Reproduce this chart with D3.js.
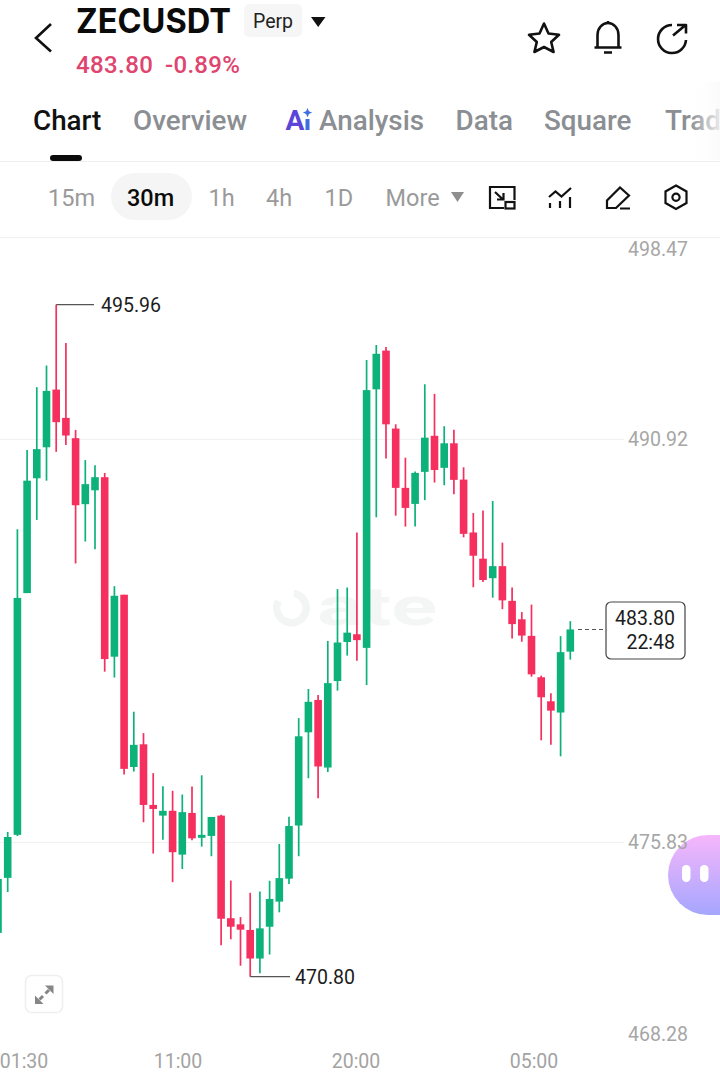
<!DOCTYPE html>
<html><head><meta charset="utf-8">
<style>html,body{margin:0;padding:0;background:#fff;overflow:hidden}svg{display:block;font-family:Roboto,sans-serif}</style>
<script src="https://cdn.jsdelivr.net/npm/d3@7/dist/d3.min.js"></script>
</head><body><svg id="c" width="720" height="1077"></svg>
<script>
const opens=[472.44,474.50,476.11,485.16,489.46,490.62,492.78,491.72,490.96,488.49,
489.01,489.50,482.78,485.10,478.65,479.50,477.23,476.83,477.01,475.37,
476.93,476.00,476.07,476.83,472.99,472.76,472.55,471.48,472.67,473.61,
474.47,476.46,479.95,481.16,478.63,481.87,483.33,483.62,483.11,492.79,
494.24,491.32,489.10,488.50,489.70,491.05,489.85,490.77,489.41,487.43,
486.45,485.72,486.17,484.87,484.18,483.56,482.01,481.11,480.69,482.97];
const highs=[474.46,476.22,487.55,490.52,492.87,493.68,495.96,494.52,491.27,490.14,
489.95,489.66,485.42,485.10,480.72,479.92,478.42,477.93,477.76,477.62,
477.92,478.34,476.78,476.86,474.40,473.03,473.94,473.99,474.39,475.77,
476.79,480.48,481.57,481.35,483.37,485.31,485.37,487.43,493.89,494.45,
494.37,491.48,490.23,489.71,492.98,492.62,491.41,491.28,489.87,488.16,
488.25,488.61,487.05,485.37,484.45,484.73,482.07,481.41,483.55,484.11];
const lows=[472.44,473.97,476.07,485.16,487.90,489.37,490.45,490.71,486.27,487.09,
486.80,482.22,482.00,478.37,478.48,476.58,475.41,475.93,474.34,474.83,
475.91,475.67,475.31,471.98,472.20,471.21,470.80,470.93,471.63,473.21,
474.27,475.31,478.23,477.48,478.46,481.51,482.82,482.63,481.72,488.00,
490.20,488.06,487.65,487.65,488.64,489.30,489.20,488.86,487.25,485.38,
485.58,484.99,484.56,483.46,483.34,482.03,479.65,479.48,479.05,482.67];
const closes=[474.46,476.03,484.98,489.37,490.55,492.73,491.56,491.06,488.45,489.24,
489.50,482.69,485.06,478.58,479.48,477.23,477.08,477.01,475.46,476.96,
475.98,476.11,476.78,472.97,472.67,472.56,471.48,472.61,473.71,474.49,
476.44,479.80,481.09,478.67,481.79,483.31,483.68,483.40,492.76,494.12,
491.48,489.10,488.35,489.66,490.98,489.77,490.77,489.40,487.38,486.56,
485.65,486.17,484.89,484.00,483.57,482.12,481.26,480.76,482.95,483.80];
const priceTicks=[498.47,490.92,475.83,468.28];
const gridPrices=[490.92,475.83];
const timeTicks=["01:30","11:00","20:00","05:00"];
const timeHours=[1.5,11,20,29];
const tabs=["Chart","Overview","Analysis","Data","Square","Trad"];
const intervals=["15m","30m","1h","4h","1D","More"];
const highLabel="495.96", lowLabel="470.80", lastPrice="483.80", countdown="22:48";
const GREEN="#0db27a", RED="#f52f5e";

const svg=d3.select("#c");
const defs=svg.append("defs");
const bg=defs.append("linearGradient").attr("id","bub").attr("x1",0).attr("y1",0).attr("x2",0).attr("y2",1);
bg.append("stop").attr("offset","0").attr("stop-color","#f6b6fb");
bg.append("stop").attr("offset","1").attr("stop-color","#a5a6fe");
const fade=defs.append("linearGradient").attr("id","fade");
fade.append("stop").attr("offset","0").attr("stop-color","#fff").attr("stop-opacity",0);
fade.append("stop").attr("offset","1").attr("stop-color","#fafafa").attr("stop-opacity",.85);

const x=d3.scaleLinear().domain([0,59]).range([-2,570.3]);
const y=d3.scaleLinear().domain([468.28,498.47]).range([1044,237.6]);
const xt=d3.scaleLinear().domain([11,20]).range([178,356]);

// header
const T=(s,px,py,size,col,w,anchor)=>svg.append("text").text(s).attr("x",px).attr("y",py).attr("font-size",size).attr("fill",col).attr("font-weight",w||400).attr("text-anchor",anchor||"start").attr("dominant-baseline","central");
svg.append("path").attr("d","M51 24L36 38L51 51.5").attr("fill","none").attr("stroke","#111").attr("stroke-width",2.6);
T("ZECUSDT",76,20.5,33.5,"#0b0b0b",700).attr("font-family","Inter").attr("textLength",155).attr("lengthAdjust","spacingAndGlyphs");
svg.append("rect").attr("x",244).attr("y",4).attr("width",58).attr("height",33).attr("rx",5).attr("fill","#f6f6f6");
T("Perp",273,21.5,19.5,"#222",400,"middle");
svg.append("path").attr("d","M311 17H325.5L318.2 27Z").attr("fill","#111");
T(lastPrice,76,65,24,"#de456f",500).attr("letter-spacing",.4);
T("-0.89%",165,65,24,"#de456f",500).attr("letter-spacing",.3);
// tabs
const tabX=[33,133,319,455.5,544,665];
tabs.forEach((t,i)=>T(t,tabX[i],120.5,27.8,i==0?"#111":"#8b8e92",500));
svg.append("text").text("A").attr("x",285.5).attr("y",130).attr("font-size",28).attr("font-weight",700).attr("fill","#5b45d8");
svg.append("rect").attr("x",305.5).attr("y",119).attr("width",4).attr("height",11).attr("fill","#3d6fe0");
svg.append("path").attr("d","M307.5 108l1.4 3.2 3.2 1.4-3.2 1.4-1.4 3.2-1.4-3.2-3.2-1.4 3.2-1.4z").attr("fill","#3d6fe0");
svg.append("rect").attr("x",690).attr("y",82).attr("width",30).attr("height",78).attr("fill","url(#fade)");
svg.append("rect").attr("x",50).attr("y",155).attr("width",32).attr("height",6).attr("rx",3).attr("fill","#0b0b0b");
svg.append("line").attr("x1",0).attr("x2",720).attr("y1",161.5).attr("y2",161.5).attr("stroke","#efefef");
svg.append("line").attr("x1",0).attr("x2",720).attr("y1",237.5).attr("y2",237.5).attr("stroke","#f1f1f1");
// intervals
svg.append("rect").attr("x",111).attr("y",173).attr("width",81).attr("height",47).attr("rx",23.5).attr("fill","#f5f5f5");
const intX=[48,127,208.5,266,324.5,385.5];
intervals.forEach((t,i)=>T(t,intX[i],198,23.5,i==1?"#0b0b0b":"#9a9a9a",i==1?500:400));
svg.append("path").attr("d","M451 192H464L457.5 202Z").attr("fill","#8f8f8f");
// top icons
const ic=svg.append("g").attr("fill","none").attr("stroke","#111").attr("stroke-width",2.6).attr("stroke-linejoin","round");
ic.append("path").attr("d","M544 23.5L548.5 33.5L559 34.8L551.2 42L553.6 52L544 47L534.4 52L536.8 42L529 34.8L539.5 33.5Z");
ic.append("path").attr("d","M594.5 47.5H621.5M597.5 47.5V35a10.5 12 0 0 1 21 0V47.5M604 52.5H612M608 21v3");
ic.append("path").attr("d","M686 40a14 14 0 1 1-14-15M673 35.5L685 25.5M677 25H686V33.5");
// tool icons
const tc=svg.append("g").attr("fill","none").attr("stroke","#111").attr("stroke-width",2.2);
tc.append("path").attr("d","M504 208H490V187H514.5V200");
tc.append("rect").attr("x",505.5).attr("y",202).attr("width",9).attr("height",6.5);
tc.append("path").attr("d","M495 192L503 199.5M497 199.5H503.5V193");
tc.append("path").attr("d","M549 197L555.5 191.5L561.5 196.5L571 188M550 203V208M560 201V208M570 197V208");
tc.append("path").attr("d","M607 208V200.5L620 187.5L629 195.5L616 208ZM620 208.5H630");
tc.append("path").attr("d","M676 185.5L686.5 191.5V203L676 209L665.5 203V191.5Z");
tc.append("circle").attr("cx",676).attr("cy",197.3).attr("r",3.6);

// watermark
const wm=svg.append("g");
wm.append("path").attr("d",d3.arc()({innerRadius:11,outerRadius:18.5,startAngle:0.15,endAngle:5.2})).attr("transform","translate(291.5,608)").attr("fill","#f3f5f4");
wm.append("text").text("ate").attr("x",317).attr("y",625).attr("font-size",54).attr("font-weight",700).attr("fill","#f4f5f5").attr("textLength",120).attr("lengthAdjust","spacingAndGlyphs");

// grid
svg.append("g").selectAll("line").data(gridPrices).join("line")
 .attr("x1",0).attr("x2",624).attr("y1",d=>Math.round(y(d))+.5).attr("y2",d=>Math.round(y(d))+.5).attr("stroke","#f1f1f1");

// candles
const idx=d3.range(opens.length);
const col=i=>closes[i]>=opens[i]?GREEN:RED;
const cg=svg.append("g");
cg.selectAll("line").data(idx).join("line")
 .attr("x1",i=>x(i)).attr("x2",i=>x(i)).attr("y1",i=>y(highs[i])).attr("y2",i=>y(lows[i]))
 .attr("stroke",col).attr("stroke-width",1.7);
cg.selectAll("rect").data(idx).join("rect")
 .attr("x",i=>x(i)-3.8).attr("width",7.6)
 .attr("y",i=>y(Math.max(opens[i],closes[i])))
 .attr("height",i=>Math.abs(y(opens[i])-y(closes[i])))
 .attr("fill",col);

// high / low markers
const hi=d3.maxIndex(highs), lo=d3.minIndex(lows);
svg.append("path").attr("d",`M${x(hi)} ${y(highs[hi])}H94`).attr("stroke","#555").attr("stroke-width",1.3).attr("fill","none");
T(highLabel,101,305,19.5,"#1c1c1c");
svg.append("path").attr("d",`M${x(lo)} ${y(lows[lo])}H290`).attr("stroke","#555").attr("stroke-width",1.3).attr("fill","none");
T(lowLabel,295,977,19.5,"#1c1c1c");

// bubble
svg.append("path").attr("d","M720 835H708a40 40 0 0 0 0 80H720Z").attr("fill","url(#bub)");
svg.append("rect").attr("x",682).attr("y",865).attr("width",8.5).attr("height",17).attr("rx",4.2).attr("fill","#fff");
svg.append("rect").attr("x",700).attr("y",865).attr("width",8.5).attr("height",17).attr("rx",4.2).attr("fill","#fff");

// price axis
const pa=svg.append("g").attr("transform","translate(688,0)").call(d3.axisLeft(y).tickValues(priceTicks).tickSize(0).tickPadding(0).tickFormat(d3.format(".2f")));
pa.select(".domain").remove();
pa.selectAll("text").attr("font-family","Roboto").attr("font-size",19.5).attr("fill","#a6a6a6")
 .attr("dy",d=>d===498.47?"0.9em":d===468.28?"-0.2em":"0.32em");

// time axis
svg.append("g").selectAll("text").data(timeTicks).join("text").text(d=>d)
 .attr("x",(d,i)=>Math.max(24,xt(timeHours[i]))).attr("y",1061).attr("text-anchor","middle")
 .attr("dominant-baseline","central").attr("font-size",19.5).attr("fill","#a3a3a3");

// expand button
svg.append("rect").attr("x",25.5).attr("y",975.5).attr("width",37).attr("height",37).attr("rx",6).attr("fill","#fff").attr("stroke","#efefef").attr("stroke-width",1.6);
svg.append("path").attr("d","M45 985.5H53.5V994ZM35 995.5V1004H43.5Z").attr("fill","#868686");
svg.append("path").attr("d","M49 990L45.5 993.5M39.5 999.5L43 996").attr("stroke","#868686").attr("stroke-width",3).attr("fill","none");

// last price
const ly=Math.round(y(closes[59]))+.5;
svg.append("line").attr("x1",578).attr("x2",606).attr("y1",ly).attr("y2",ly).attr("stroke","#555").attr("stroke-dasharray","4 3").attr("stroke-width",1.2);
svg.append("rect").attr("x",606).attr("y",602).attr("width",79).attr("height",57).attr("rx",5).attr("fill","#fff").attr("stroke","#444").attr("stroke-width",1.2);
T(lastPrice,675,618,19.5,"#1c1c1c",400,"end");
T(countdown,675,642,19.5,"#1c1c1c",400,"end");
</script></body></html>
